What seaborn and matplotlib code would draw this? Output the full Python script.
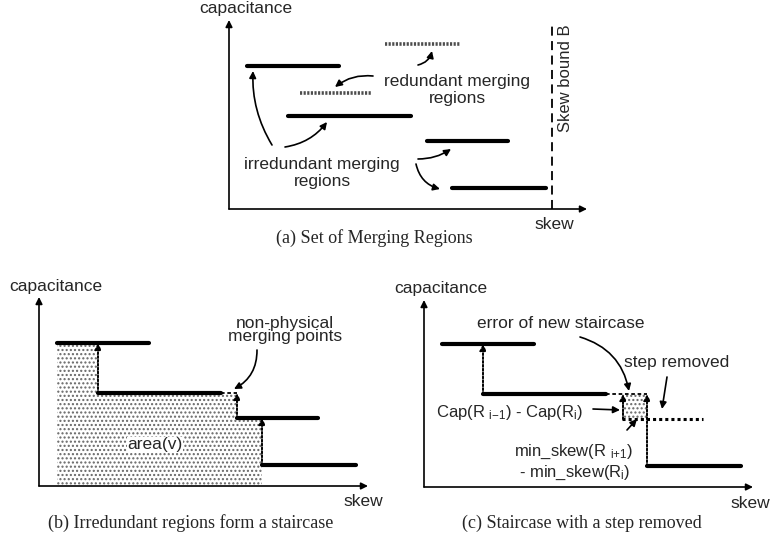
import numpy as np
import pandas as pd
import matplotlib
matplotlib.use("Agg")
import matplotlib.pyplot as plt
import seaborn as sns

sns.set_style("white")
plt.rcParams['font.family'] = ['Liberation Sans', 'DejaVu Sans']
plt.rcParams['mathtext.fontset'] = 'custom'
plt.rcParams['mathtext.rm'] = 'Liberation Sans'
plt.rcParams['mathtext.it'] = 'Liberation Sans'
plt.rcParams['hatch.linewidth'] = 1.0
plt.rcParams['hatch.color'] = '0.4'

# Irredundant merging regions: min skew, max skew, capacitance (pixel-like units)
reg_start = [18, 59, 198, 223]
reg_end = [110, 182, 279, 317]
reg_cap = [143, 93, 68, 21]

# Redundant merging regions (panel a)
red_start = [156, 71]
red_end = [231, 142]
red_cap = [165, 116]

SKEW_BOUND = 323
W, H = 771, 537
FS = 12.5

fig = plt.figure(figsize=(W / 100, H / 100), dpi=100)


def panel_axes(ox, oy, xmin, xmax, ymin, ymax):
    # axes whose data units are pixels, origin at the drawn axis corner
    ax = fig.add_axes([(ox + xmin) / W, (H - oy + ymin) / H, (xmax - xmin) / W, (ymax - ymin) / H])
    ax.set_xlim(xmin, xmax)
    ax.set_ylim(ymin, ymax)
    ax.axis('off')
    return ax


def draw_axes(ax, xend, ytop, skew_x):
    ax.annotate('', xy=(xend, 0), xytext=(0, 0),
                arrowprops=dict(arrowstyle='-|>', color='black', lw=1.2, mutation_scale=10, shrinkA=0, shrinkB=0))
    ax.annotate('', xy=(0, ytop), xytext=(0, 0),
                arrowprops=dict(arrowstyle='-|>', color='black', lw=1.2, mutation_scale=10, shrinkA=0, shrinkB=0))
    ax.text(17, ytop + 11, 'capacitance', ha='center', va='center', fontsize=FS)
    ax.text(skew_x, -16, 'skew', ha='center', va='center', fontsize=FS)


def solid_regions(ax, idx):
    df = pd.DataFrame({
        'x': [v for i in idx for v in (reg_start[i], reg_end[i])],
        'y': [reg_cap[i] for i in idx for _ in (0, 1)],
        'region': [i for i in idx for _ in (0, 1)],
    })
    sns.lineplot(data=df, x='x', y='y', units='region', estimator=None, color='black',
                 lw=3.0, ax=ax, legend=False, clip_on=False)
    ax.set_xlabel('')
    ax.set_ylabel('')


def curved_arrow(ax, start, end, rad, lw=1.2):
    ax.annotate('', xy=end, xytext=start,
                arrowprops=dict(arrowstyle='-|>', color='black', lw=lw, mutation_scale=10,
                                shrinkA=0, shrinkB=0, connectionstyle=f'arc3,rad={rad}'))


def dotted_arrow(ax, x, y0, y1):
    ax.annotate('', xy=(x, y1), xytext=(x, y0),
                arrowprops=dict(arrowstyle='-|>', color='black', lw=1.4, ls=(0, (1, 1)),
                                mutation_scale=9, shrinkA=0, shrinkB=0))


def caption(ax, x, y, s):
    ax.text(x, y, s, ha='center', va='center', fontsize=13, family='Liberation Serif')


# ---------------- (a) Set of Merging Regions ----------------
ax = panel_axes(229, 209, -40, 362, -45, 209)
draw_axes(ax, 358, 189, 325)
solid_regions(ax, [0, 1, 2, 3])
for s, e, c in zip(red_start, red_end, red_cap):
    ax.plot([s, e], [c, c], color='0.3', lw=2.6, ls=(0, (0.6, 0.4)), clip_on=False)
ax.plot([SKEW_BOUND, SKEW_BOUND], [0, 184], color='black', lw=1.3, ls=(0, (5, 3)), clip_on=False)
ax.text(SKEW_BOUND + 14, 131, 'Skew bound B', rotation=90, ha='center', va='center', fontsize=12)
ax.text(228, 119, 'redundant merging\nregions', ha='center', va='center', fontsize=FS, linespacing=1.2)
ax.text(93, 36, 'irredundant merging\nregions', ha='center', va='center', fontsize=FS, linespacing=1.2)
curved_arrow(ax, (43, 64), (24, 138), -0.15)
curved_arrow(ax, (56, 62), (98, 87), 0.2)
curved_arrow(ax, (144, 133), (106, 122), 0.2)
curved_arrow(ax, (189, 144), (203, 158), 0.3)
curved_arrow(ax, (189, 50), (222, 60), 0.15)
curved_arrow(ax, (187, 45), (211, 20), 0.3)
caption(ax, 145, -29, '(a) Set of Merging Regions')

# ---------------- (b) Irredundant regions form a staircase ----------------
ax = panel_axes(39, 486, -39, 345, -51, 245)
draw_axes(ax, 329, 189, 324)
step_x = [reg_start[0], reg_start[1], reg_start[2], reg_start[3]]
step_y = [reg_cap[0], reg_cap[1], reg_cap[2], reg_cap[2]]
ax.fill_between(step_x, step_y, 0, step='post', facecolor='white', edgecolor='0.4',
                hatch='....', lw=0, zorder=0)
solid_regions(ax, [0, 1, 2, 3])
ax.plot([reg_end[1], reg_start[2]], [reg_cap[1], reg_cap[1]], color='black', lw=1.3,
        ls=(0, (2, 1.5)), clip_on=False)
for i in range(1, 4):
    dotted_arrow(ax, reg_start[i], reg_cap[i], reg_cap[i - 1])
ax.text(116, 41, 'area(v)', ha='center', va='center', fontsize=FS,
        bbox=dict(facecolor='white', edgecolor='none', pad=0.5))
ax.text(246, 156, 'non-physical\nmerging points', ha='center', va='center', fontsize=FS, linespacing=0.9)
curved_arrow(ax, (218, 136), (195, 97), -0.3)
caption(ax, 152, -37, '(b) Irredundant regions form a staircase')

# ---------------- (c) Staircase with a step removed ----------------
ax = panel_axes(424, 487, -34, 347, -50, 245)
draw_axes(ax, 329, 187, 326)
ax.fill_between([reg_start[2], reg_start[3]], [reg_cap[2], reg_cap[2]], [reg_cap[1], reg_cap[1]],
                facecolor='white', edgecolor='0.4', hatch='....', lw=0, zorder=0)
solid_regions(ax, [0, 1, 3])
ax.plot([reg_end[1], reg_start[3]], [reg_cap[1], reg_cap[1]], color='black', lw=1.3,
        ls=(0, (2, 1.5)), clip_on=False)
ax.plot([reg_start[2], reg_end[2]], [reg_cap[2], reg_cap[2]], color='black', lw=2.2,
        ls=(0, (1, 1)), clip_on=False)
dotted_arrow(ax, reg_start[1], reg_cap[1], reg_cap[0])
dotted_arrow(ax, reg_start[2] + 1, reg_cap[2], reg_cap[1])
dotted_arrow(ax, reg_start[3], reg_cap[3], reg_cap[1])
ax.text(137, 163, 'error of new staircase', ha='center', va='center', fontsize=FS)
curved_arrow(ax, (156, 150), (205, 96), -0.3)
ax.text(253, 124, 'step removed', ha='center', va='center', fontsize=FS)
curved_arrow(ax, (243, 110), (238, 78), 0.0)
ax.text(86, 74, r'Cap(R $_{\mathrm{i{-}1}}$) - Cap(R$_{\mathrm{i}}$)', ha='center', va='center', fontsize=12)
curved_arrow(ax, (169, 78), (196, 77), 0.0)
ax.text(150, 35, r'min_skew(R $_{\mathrm{i{+}1}}$)', ha='center', va='center', fontsize=12)
ax.text(151, 14, r'- min_skew(R$_{\mathrm{i}}$)', ha='center', va='center', fontsize=12)
curved_arrow(ax, (203, 57), (213, 68), 0.0)
caption(ax, 158, -36, '(c) Staircase with a step removed')

fig.savefig('out.png', dpi=100)
